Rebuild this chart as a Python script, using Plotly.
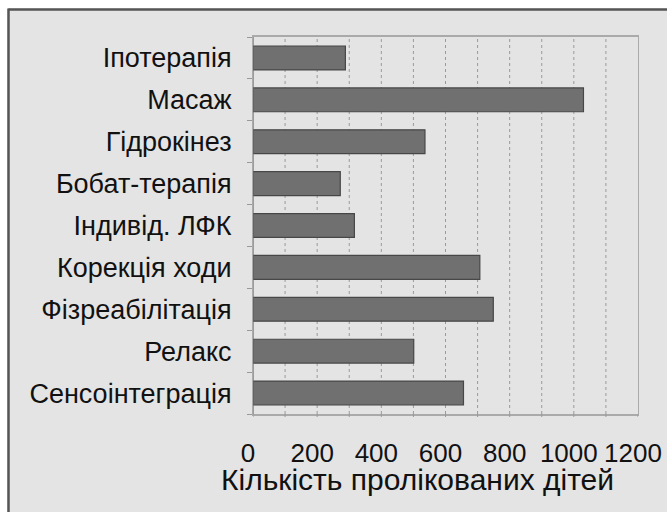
import plotly.graph_objects as go

categories = ["Іпотерапія", "Масаж", "Гідрокінез", "Бобат-терапія", "Індивід. ЛФК",
              "Корекція ходи", "Фізреабілітація", "Релакс", "Сенсоінтеграція"]
values = [288, 1030, 536, 272, 316, 707, 749, 501, 656]
tick_vals = [0, 200, 400, 600, 800, 1000, 1200]
x_title = "Кількість пролікованих дітей"

BG = "#e4e4e4"
FONT = "Liberation Sans, Arial, sans-serif"

fig = go.Figure()
fig.add_trace(go.Bar(
    y=categories, x=values, orientation="h",
    marker=dict(color="#707070", line=dict(color="#474747", width=1.2)),
    width=0.57,
))

L, R, T, B = 253, 29, 37, 98
W, H = 667, 512
pw, ph = W - L - R, H - T - B

fig.update_layout(
    width=W, height=H,
    margin=dict(l=L, r=R, t=T, b=B, autoexpand=False),
    paper_bgcolor=BG, plot_bgcolor=BG,
    showlegend=False,
    font=dict(family=FONT, size=27, color="#111"),
    xaxis=dict(
        range=[0, 1200], tickvals=tick_vals, ticktext=[str(v) for v in tick_vals],
        showgrid=False, zeroline=False, automargin=False,
        showline=True, linecolor="#aaaaaa", linewidth=2, mirror=True,
        ticks="", tickfont=dict(size=26), ticklabelstandoff=15,
        ticklabeloverflow="allow", ticklabelshift=-5,
    ),
    yaxis=dict(
        categoryorder="array", categoryarray=categories[::-1],
        showgrid=False, zeroline=False, automargin=False,
        showline=True, linecolor="#aaaaaa", linewidth=1, mirror=True,
        ticks="outside", ticklen=5, tickcolor="#999999", tickson="boundaries",
        tickfont=dict(size=27), ticklabelstandoff=15,
    ),
)

px = lambda p: (p - L) / pw
py = lambda p: (H - B - p) / ph

fig.add_annotation(text=x_title, xref="paper", yref="paper", x=px(417), y=py(479),
                   xanchor="center", yanchor="middle", showarrow=False,
                   font=dict(family=FONT, size=30, color="#111"))

# dotted grid lines every 100 plus small ticks below x-axis
shapes = []
for v in range(100, 1200, 100):
    shapes.append(dict(type="line", xref="x", yref="paper", x0=v, x1=v, y0=0, y1=1,
                       line=dict(color="#9a9a9a", width=1, dash="dot"), layer="below"))
for v in range(0, 1300, 100):
    shapes.append(dict(type="line", xref="x", yref="paper", x0=v, x1=v, y0=0, y1=-5/ph,
                       line=dict(color="#9a9a9a", width=1, dash="dot")))
shapes.append(dict(type="line", xref="x", yref="paper", x0=0, x1=0, y0=0, y1=1,
                   line=dict(color="#6a6a6a", width=1.2)))

# outer frame: white margin top/left and dark border line
shapes += [
    dict(type="rect", xref="paper", yref="paper", x0=-2, x1=px(7.5), y0=-2, y1=3,
         fillcolor="white", line=dict(width=0), layer="above"),
    dict(type="rect", xref="paper", yref="paper", x0=-2, x1=3, y0=py(8.5), y1=3,
         fillcolor="white", line=dict(width=0), layer="above"),
    dict(type="line", xref="paper", yref="paper", x0=px(8.5), x1=px(8.5), y0=py(H + 5), y1=py(8.5),
         line=dict(color="#555555", width=2.5)),
    dict(type="line", xref="paper", yref="paper", x0=px(8.5), x1=px(W + 5), y0=py(9.5), y1=py(9.5),
         line=dict(color="#555555", width=2.5)),
]
fig.update_layout(shapes=shapes)

fig.write_html("out.html")
